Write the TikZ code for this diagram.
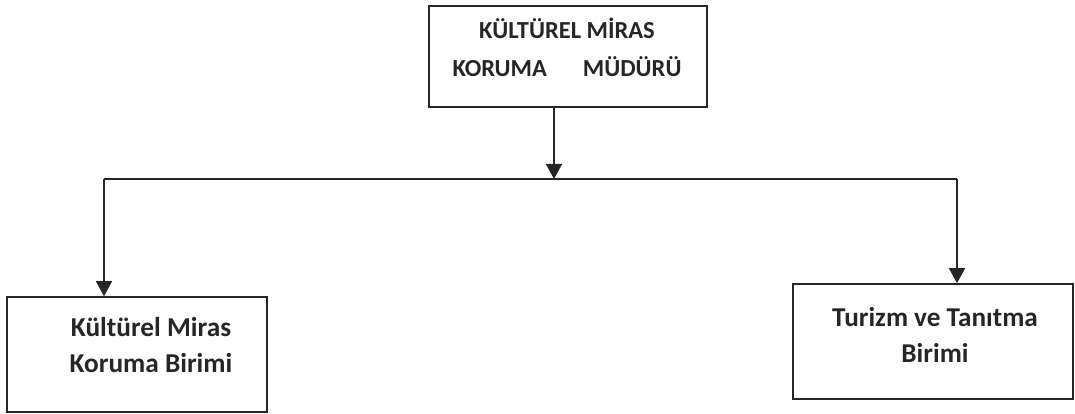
\documentclass[tikz,border=0pt]{standalone}
\usepackage{fontspec}
\setmainfont{Carlito}
\usetikzlibrary{arrows.meta}
\begin{document}
\begin{tikzpicture}[x=1pt,y=-1pt,
  box/.style={draw=black!85,line width=1.6pt,rectangle,inner sep=0pt},
  lbl/.style={align=center,font=\bfseries,text=black!85,inner sep=0pt},
  conn/.style={draw=black!85,line width=1.6pt},
  arr/.style={conn,-{Triangle[width=16pt,length=15pt]}}]
\useasboundingbox (0,0) rectangle (1075,414);
% boxes
\node[box,minimum width=278pt,minimum height=101pt] (top) at (568,56.5) {};
\node[box,minimum width=260pt,minimum height=115pt] (left) at (137,354.5) {};
\node[box,minimum width=280pt,minimum height=115pt] (right) at (933,341.5) {};
% texts
\node[lbl,font=\bfseries\fontsize{24.5}{38}\selectfont] (ttext) at (567,47) {KÜLTÜREL MİRAS\\KORUMA\hspace{36pt}MÜDÜRÜ};
\node[lbl,font=\bfseries\fontsize{27.3}{36}\selectfont] (ltext) at (151,345) {Kültürel Miras\\Koruma Birimi};
\node[lbl,font=\bfseries\fontsize{27.2}{36}\selectfont] (rtext) at (935,335) {Turizm ve Tanıtma\\Birimi};
% connectors
\coordinate (j) at (554,179);
\coordinate (jl) at (104,179);
\coordinate (jr) at (957,179);
\draw[arr] (top.south -| j) -- (j);
\draw[conn] (jl) -- (jr);
\draw[arr] (jl) -- (jl |- left.north);
\draw[arr] (jr) -- (jr |- right.north);
\end{tikzpicture}
\end{document}
